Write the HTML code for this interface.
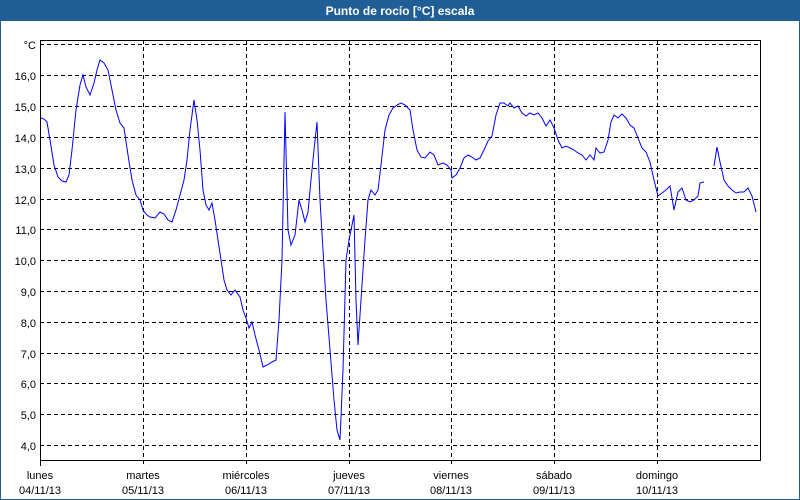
<!DOCTYPE html>
<html><head><meta charset="utf-8"><style>
html,body{margin:0;padding:0;width:800px;height:500px;overflow:hidden;background:#fff;font-family:"Liberation Sans",sans-serif;}
</style></head><body>
<svg width="800" height="500" xmlns="http://www.w3.org/2000/svg" font-family="Liberation Sans, sans-serif">
<rect x="0" y="0" width="800" height="500" fill="#fff"/>
<rect x="0" y="0" width="800" height="21" fill="#1f5f96"/>
<rect x="0.5" y="0.5" width="799" height="499" fill="none" stroke="#1f5f96"/>
<text x="400" y="15" fill="#fff" font-size="12" font-weight="bold" text-anchor="middle">Punto de rocío [°C] escala</text>
<g stroke="#000" stroke-dasharray="4,3" stroke-width="1">
<line x1="40" x2="760" y1="44.5" y2="44.5"/>
<line x1="40" x2="760" y1="75.5" y2="75.5"/>
<line x1="40" x2="760" y1="106.5" y2="106.5"/>
<line x1="40" x2="760" y1="137.5" y2="137.5"/>
<line x1="40" x2="760" y1="168.5" y2="168.5"/>
<line x1="40" x2="760" y1="199.5" y2="199.5"/>
<line x1="40" x2="760" y1="229.5" y2="229.5"/>
<line x1="40" x2="760" y1="260.5" y2="260.5"/>
<line x1="40" x2="760" y1="291.5" y2="291.5"/>
<line x1="40" x2="760" y1="322.5" y2="322.5"/>
<line x1="40" x2="760" y1="353.5" y2="353.5"/>
<line x1="40" x2="760" y1="383.5" y2="383.5"/>
<line x1="40" x2="760" y1="414.5" y2="414.5"/>
<line x1="40" x2="760" y1="445.5" y2="445.5"/>
<line x1="143.5" x2="143.5" y1="40" y2="466"/>
<line x1="246.5" x2="246.5" y1="40" y2="466"/>
<line x1="349.5" x2="349.5" y1="40" y2="466"/>
<line x1="451.5" x2="451.5" y1="40" y2="466"/>
<line x1="554.5" x2="554.5" y1="40" y2="466"/>
<line x1="657.5" x2="657.5" y1="40" y2="466"/>
</g>
<polyline fill="none" stroke="#000" points="40.5,466 40.5,40.5 760.5,40.5 760.5,460.5 40.5,460.5"/>
<g font-size="11" fill="#000" text-anchor="end">
<text x="36" y="49">°C</text>
<text x="36" y="80">16,0</text><text x="36" y="111">15,0</text><text x="36" y="142">14,0</text>
<text x="36" y="173">13,0</text><text x="36" y="204">12,0</text><text x="36" y="234">11,0</text>
<text x="36" y="265">10,0</text><text x="36" y="296">9,0</text><text x="36" y="327">8,0</text>
<text x="36" y="358">7,0</text><text x="36" y="388">6,0</text><text x="36" y="419">5,0</text>
<text x="36" y="450">4,0</text>
</g>
<g font-size="11" fill="#000" text-anchor="middle">
<text x="40" y="479">lunes</text><text x="40" y="494">04/11/13</text>
<text x="143" y="479">martes</text><text x="143" y="494">05/11/13</text>
<text x="246" y="479">miércoles</text><text x="246" y="494">06/11/13</text>
<text x="349" y="479">jueves</text><text x="349" y="494">07/11/13</text>
<text x="451" y="479">viernes</text><text x="451" y="494">08/11/13</text>
<text x="554" y="479">sábado</text><text x="554" y="494">09/11/13</text>
<text x="657" y="479">domingo</text><text x="657" y="494">10/11/13</text>
</g>
<polyline fill="none" stroke="#0000ff" stroke-width="1" points="41,118 44,119 47,122 50,140 54,165 58,177 62,181 66,182 69,175 72,150 76,110 80,85 83,75 86,87 90,95 94,83 97,70 100,60 104,63 108,70 112,90 116,110 120,123 124,128 128,155 132,180 136,195 140,200 143,210 147,215 150,217 155,218 160,212 164,214 168,220 172,222 176,210 180,195 184,180 187,160 190,130 194,100 197,120 200,150 203,190 206,205 209,210 212,203 215,220 218,240 221,260 224,280 227,290 231,295 235,290 240,297 243,310 246,318 249,328 252,322 255,335 259,350 263,367 267,365 272,362 276,360 279,320 282,260 285,112 288,230 291,245 295,235 299,200 302,210 305,222 308,212 311,180 314,150 317,122 320,200 323,250 326,300 330,350 334,400 337,430 340,440 343,370 346,260 349,240 352,225 354,215 356,300 358,345 361,300 365,240 368,200 371,190 375,195 378,190 381,165 385,130 389,115 393,108 397,105 401,103 405,105 410,110 413,130 417,150 421,157 425,158 430,152 434,155 438,165 443,163 447,165 451,170 452,178 456,175 460,168 464,158 468,155 472,157 476,160 480,158 484,150 488,141 492,136 496,115 500,103 504,103 508,106 510,103 514,108 518,106 522,113 526,116 530,113 534,115 538,113 542,118 546,126 550,120 554,128 558,140 562,148 566,146 570,148 574,150 578,153 582,155 586,160 590,155 594,160 596,148 600,153 604,152 608,140 611,122 614,115 618,118 622,114 626,118 630,125 634,128 638,138 642,148 646,152 650,162 654,180 658,196 662,193 666,190 670,186 674,210 678,192 682,188 686,200 690,202 694,200 698,196 700,183 704,182"/>
<polyline fill="none" stroke="#0000ff" stroke-width="1" points="714,166 717,147 720,162 724,180 728,186 732,190 736,193 740,192 744,192 748,188 752,196 756,212"/>
</svg>
</body></html>
